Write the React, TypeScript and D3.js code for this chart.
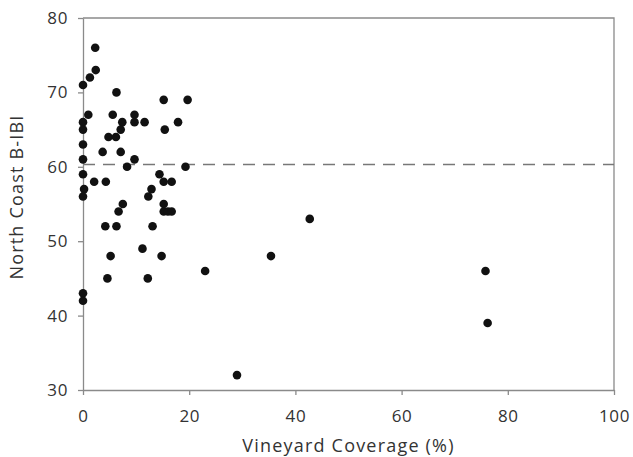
import React, { useRef, useEffect } from 'react';
import { select, scaleLinear, axisBottom, axisLeft } from 'd3';

// vineyard coverage (%) and B-IBI score per site
const coverage = [
  2.3, 2.4, 1.3, 0, 1.0, 6.3, 15.2, 19.7, 0, 0, 0, 0, 0, 0.2, 0,
  5.6, 7.4, 7.1, 4.8, 6.2, 9.7, 9.7, 11.6, 15.4, 17.9, 3.7, 7.1, 9.7, 8.3, 19.3,
  2.1, 4.3, 14.4, 15.2, 16.7, 12.9, 12.3, 7.5, 15.2, 6.7, 15.2, 16.0, 16.7,
  4.2, 6.3, 13.1, 42.7, 11.2, 5.2, 14.8, 35.4, 23.0, 75.8, 4.6, 12.2, 0, 0, 76.2, 29.0,
];
const bibi = [
  76, 73, 72, 71, 67, 70, 69, 69, 66, 65, 63, 61, 59, 57, 56,
  67, 66, 65, 64, 64, 67, 66, 66, 65, 66, 62, 62, 61, 60, 60,
  58, 58, 59, 58, 58, 57, 56, 55, 55, 54, 54, 54, 54,
  52, 52, 52, 53, 49, 48, 48, 48, 46, 46, 45, 45, 43, 42, 39, 32,
];
const xTicks = [0, 20, 40, 60, 80, 100];
const yTicks = [30, 40, 50, 60, 70, 80];
const threshold = 60.3;

const width = 633;
const height = 457;
const margin = { top: 18, right: 19, bottom: 67, left: 83 };

export default function App() {
  const svgRef = useRef<SVGSVGElement>(null);

  useEffect(() => {
    const svg = select(svgRef.current);
    const x = scaleLinear().domain([0, 100]).range([margin.left, width - margin.right]);
    const y = scaleLinear().domain([30, 80]).range([height - margin.bottom, margin.top]);
    const axisColor = '#8a8a8a';
    const font = '"Open Sans", "DejaVu Sans", sans-serif';

    const xAxis = axisBottom(x).tickValues(xTicks).tickSize(5).tickSizeOuter(0).tickPadding(15);
    const gx = svg
      .select<SVGGElement>('.x-axis')
      .attr('transform', `translate(0,${height - margin.bottom})`)
      .call(xAxis);
    const yAxis = axisLeft(y).tickValues(yTicks).tickSize(5).tickSizeOuter(0).tickPadding(10);
    const gy = svg
      .select<SVGGElement>('.y-axis')
      .attr('transform', `translate(${margin.left},0)`)
      .call(yAxis);

    [gx, gy].forEach((g) => {
      g.selectAll('path, line').attr('stroke', axisColor).attr('stroke-width', 1.3);
      g.selectAll('text')
        .attr('fill', '#333')
        .style('font-family', font)
        .style('font-size', '17px')
        .style('letter-spacing', '0.6px');
    });

    // box on top and right
    svg
      .select('.frame')
      .selectAll('path')
      .data([0])
      .join('path')
      .attr('d', `M${x(0)},${y(80)}H${x(100)}V${y(30)}`)
      .attr('fill', 'none')
      .attr('stroke', axisColor)
      .attr('stroke-width', 1.3);

    svg
      .select('.threshold')
      .selectAll('line')
      .data([threshold])
      .join('line')
      .attr('x1', x(0))
      .attr('x2', x(100))
      .attr('y1', (d) => y(d))
      .attr('y2', (d) => y(d))
      .attr('stroke', '#777')
      .attr('stroke-width', 1.5)
      .attr('stroke-dasharray', '12,8');

    svg
      .select('.dots')
      .selectAll('circle')
      .data(coverage.map((c, i) => [c, bibi[i]]))
      .join('circle')
      .attr('cx', (d) => x(d[0]))
      .attr('cy', (d) => y(d[1]))
      .attr('r', 4.3)
      .attr('fill', '#111');

    svg
      .select('.labels')
      .selectAll('text')
      .data([
        { t: 'Vineyard Coverage (%)', x: (x(0) + x(100)) / 2, y: 452, r: 0 },
        { t: 'North Coast B-IBI', x: 23, y: 197, r: -90 },
      ])
      .join('text')
      .attr('transform', (d) => `translate(${d.x},${d.y}) rotate(${d.r})`)
      .attr('text-anchor', 'middle')
      .attr('fill', '#333')
      .style('font-family', font)
      .style('font-size', '18px')
      .style('letter-spacing', '1.2px')
      .text((d) => d.t);
  }, []);

  return (
    <div style={{ position: 'fixed', left: 0, top: 0, background: '#fff' }}>
      <svg ref={svgRef} width={width} height={height} style={{ display: 'block' }}>
        <g className="frame" />
        <g className="threshold" />
        <g className="x-axis" />
        <g className="y-axis" />
        <g className="dots" />
        <g className="labels" />
      </svg>
    </div>
  );
}
